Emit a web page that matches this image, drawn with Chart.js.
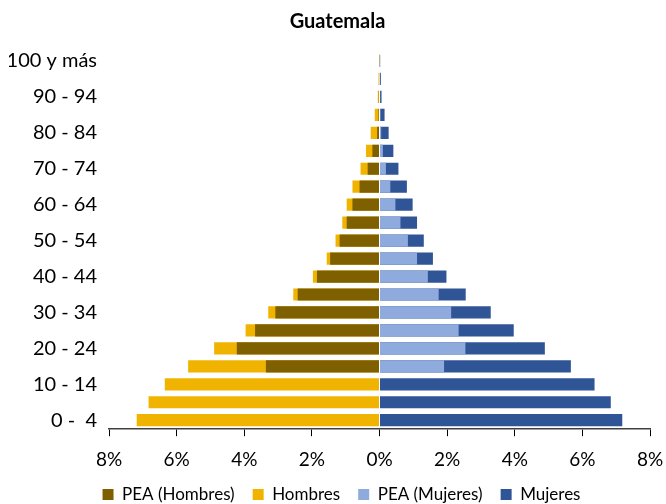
<!DOCTYPE html>
<html>
<head>
<meta charset="utf-8">
<script src="https://cdn.jsdelivr.net/npm/chart.js@4/dist/chart.umd.min.js"></script>
<style>
  html, body { margin: 0; padding: 0; background: #fff; }
  #wrap { width: 666px; height: 504px; position: relative; }
</style>
</head>
<body>
<div id="wrap"><canvas id="c" width="666" height="504"></canvas></div>
<script>
const categories = ["0 -  4","5 - 9","10 - 14","15 - 19","20 - 24","25 - 29","30 - 34","35 - 39","40 - 44","45 - 49","50 - 54","55 - 59","60 - 64","65 - 69","70 - 74","75 - 79","80 - 84","85 - 89","90 - 94","95 - 99","100 y más"];
const hombres    = [7.18, 6.83, 6.35, 5.66, 4.89, 3.96, 3.29, 2.55, 1.97, 1.56, 1.30, 1.10, 0.97, 0.80, 0.56, 0.40, 0.26, 0.14, 0.05, 0.03, 0.01];
const peaHombres = [0, 0, 0, 3.36, 4.22, 3.68, 3.08, 2.42, 1.85, 1.46, 1.18, 0.97, 0.80, 0.59, 0.35, 0.21, 0.07, 0.03, 0.02, 0.01, 0.005];
const mujeres    = [7.18, 6.84, 6.36, 5.66, 4.89, 3.97, 3.29, 2.55, 1.98, 1.58, 1.31, 1.11, 0.98, 0.81, 0.56, 0.41, 0.27, 0.15, 0.06, 0.04, 0.02];
const peaMujeres = [0, 0, 0, 1.91, 2.54, 2.34, 2.12, 1.75, 1.43, 1.11, 0.84, 0.62, 0.47, 0.32, 0.19, 0.10, 0.05, 0.03, 0.02, 0.01, 0.005];
const xTicks = [-8, -6, -4, -2, 0, 2, 4, 6, 8];

const FONT = "Lato";
const neg = a => a.map(v => -v);

const shiftBlocks = {
  id: 'shiftBlocks',
  afterLayout(chart) {
    const lg = chart.legend;
    if (lg) { lg.left += 12; lg.right += 12; lg.top -= 15; lg.bottom -= 15; }
    const tb = chart.titleBlock;
    if (tb) { tb.left += 8; tb.right += 8; }
  }
};

new Chart(document.getElementById('c'), {
  type: 'bar',
  data: {
    labels: categories,
    datasets: [
      { label: 'PEA (Hombres)', data: neg(peaHombres), backgroundColor: '#7F6000' },
      { label: 'Hombres', data: neg(hombres), backgroundColor: '#F0B400' },
      { label: 'PEA (Mujeres)', data: peaMujeres, backgroundColor: '#8FAADC' },
      { label: 'Mujeres', data: mujeres, backgroundColor: '#2F5597' }
    ]
  },
  plugins: [shiftBlocks],
  options: {
    indexAxis: 'y',
    responsive: false,
    animation: false,
    devicePixelRatio: 1,
    datasets: { bar: { grouped: false, categoryPercentage: 1, barPercentage: 0.68, borderWidth: 0 } },
    layout: { padding: { left: 9, right: 16, top: 0, bottom: -24 } },
    plugins: {
      title: {
        display: true, text: 'Guatemala', color: '#000',
        font: { family: FONT, size: 20, weight: 'bold' },
        padding: { top: 10, bottom: 18 }
      },
      legend: {
        position: 'bottom',
        labels: {
          color: '#000', boxWidth: 11, boxHeight: 11, padding: 18,
          font: { family: FONT, size: 17 }
        }
      },
      tooltip: { enabled: false }
    },
    scales: {
      x: {
        min: -8, max: 8,
        afterBuildTicks: s => { s.ticks = xTicks.map(v => ({ value: v })); },
        afterFit: s => { s.paddingLeft = 0; s.paddingRight = 0; },
        ticks: {
          color: '#000', font: { family: FONT, size: 19 }, padding: 12,
          callback: v => Math.abs(v) + '%'
        },
        grid: { drawOnChartArea: false, drawTicks: true, tickLength: 7, color: '#000' },
        border: { display: true, color: '#404040', width: 1.5 }
      },
      y: {
        reverse: true,
        afterFit: s => { s.width = 100; },
        ticks: {
          color: '#000', font: { family: FONT, size: 20 }, padding: 12, autoSkip: false,
          callback: function(v, i) { return i % 2 === 0 ? this.getLabelForValue(v) : ''; }
        },
        grid: { display: false, drawTicks: false },
        border: { display: false }
      }
    }
  }
});
</script>
</body>
</html>
